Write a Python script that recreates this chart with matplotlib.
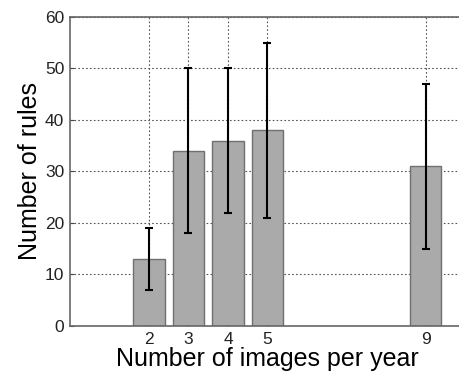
import matplotlib.pyplot as plt

plt.rcParams['font.family'] = ['Liberation Sans', 'DejaVu Sans']

# data
images_per_year = [2, 3, 4, 5, 9]
mean_rules = [13, 34, 36, 38, 31]
low_rules = [7, 18, 22, 21, 15]
high_rules = [19, 50, 50, 55, 47]

err_low = [m - lo for m, lo in zip(mean_rules, low_rules)]
err_high = [hi - m for m, hi in zip(mean_rules, high_rules)]

fig = plt.figure(figsize=(4.6, 3.76), dpi=100)
ax = fig.add_axes([0.152, 0.133, 0.859, 0.822])

ax.bar(images_per_year, mean_rules, width=0.8, color='#aaaaaa',
       edgecolor='#707070', linewidth=1.0, zorder=2)
ax.errorbar(images_per_year, mean_rules, yerr=[err_low, err_high],
            fmt='none', ecolor='black', elinewidth=1.5, capsize=3,
            capthick=1.5, zorder=3)

ax.set_xlim(0, 10)
ax.set_ylim(0, 60)
ax.set_xticks(images_per_year)
ax.set_yticks([0, 10, 20, 30, 40, 50, 60])
ax.grid(True, linestyle=(0, (1.5, 2)), color='#555555', linewidth=0.8, zorder=0)
ax.set_axisbelow(True)
ax.tick_params(direction='in', length=3, labelsize=12.5, colors='#444444',
               labelcolor='#222222', pad=4)
for s in ax.spines.values():
    s.set_color('#666666')
    s.set_linewidth(1.2)

ax.set_xlabel('Number of images per year', fontsize=18, labelpad=0)
ax.set_ylabel('Number of rules', fontsize=18, labelpad=2)

fig.savefig('out.png', dpi=100)
